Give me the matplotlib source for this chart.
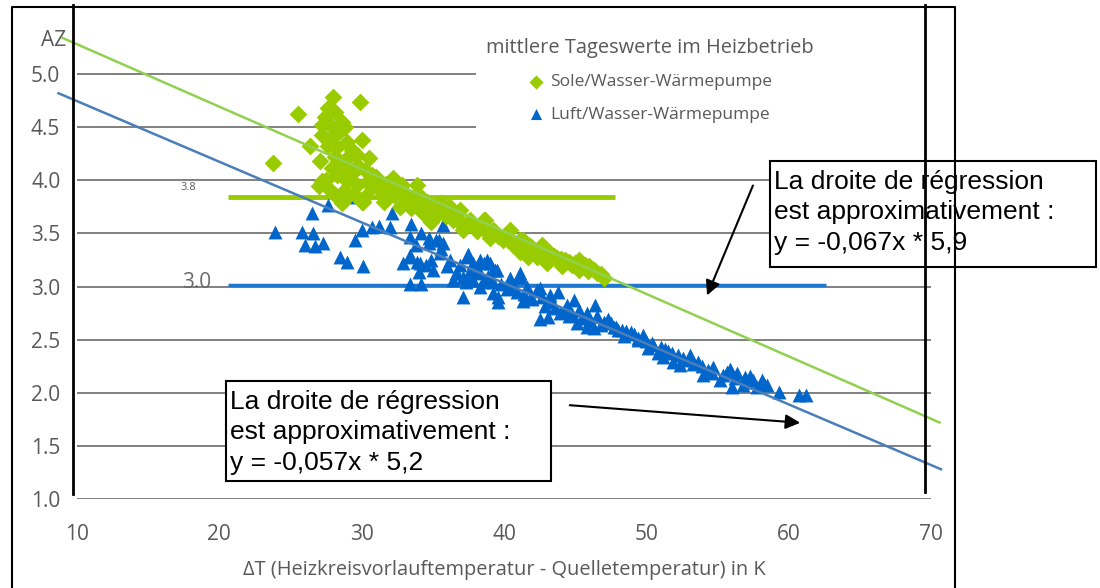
import matplotlib
matplotlib.use('Agg')
import matplotlib.pyplot as plt
from matplotlib.patches import Rectangle

# Sole/Wasser-Wärmepumpe: daily means (dT in K, AZ)
sole_dt = [28.0, 29.9, 25.5, 27.6, 27.4, 28.1, 28.6, 27.2, 27.9, 28.5, 28.8, 27.2, 28.0, 30.0, 29.0,
           26.4, 27.6, 28.3, 29.3, 27.1, 28.1, 29.0, 29.7, 30.5, 23.8, 27.9, 28.7, 29.5, 30.2, 30.7,
           27.2, 28.3, 29.0, 29.7, 27.8, 28.7, 29.5, 30.2, 30.9, 31.4, 32.1, 32.8, 33.9, 32.3, 33.2,
           30.0, 28.1, 34.2, 34.7, 33.5, 32.8, 31.6, 28.6, 31.0, 30.7, 31.7, 30.1,
           32.2, 31.5, 32.9, 33.4, 34.6, 35.5, 34.3, 36.2, 36.9, 36.4, 37.6, 37.1, 38.3, 38.7, 38.1,
           39.2, 39.0, 40.4, 39.9, 40.6, 41.3, 41.1, 42.0, 42.7, 42.3, 43.2, 43.7, 44.3, 44.8, 45.3,
           45.3, 46.0, 46.5, 47.0, 44.1, 43.0, 41.7, 35.0, 32.7,
           35.4, 36.1, 34.9, 36.6, 37.6, 38.6, 39.4, 41.1, 41.8, 42.7,
           35.8, 37.3, 38.9, 40.0, 41.5, 42.5, 43.5, 44.6, 45.7, 46.3,
           31.2, 32.5, 33.7, 34.0, 35.2, 35.9, 36.8, 37.9, 38.5, 39.6, 40.2, 40.9, 41.9, 43.0, 44.0,
           45.0, 45.9, 46.8, 29.2, 28.4, 29.8, 30.4, 29.1, 27.5, 27.0]
sole_az = [4.78, 4.74, 4.62, 4.68, 4.60, 4.64, 4.55, 4.52, 4.50, 4.46, 4.50, 4.43, 4.41, 4.38, 4.36,
           4.32, 4.32, 4.31, 4.29, 4.18, 4.22, 4.21, 4.24, 4.21, 4.16, 4.12, 4.13, 4.12, 4.10, 4.05,
           3.99, 4.05, 3.99, 3.96, 3.91, 3.89, 3.86, 3.84, 3.96, 3.89, 4.00, 3.96, 3.96, 3.86, 3.86,
           3.80, 3.86, 3.84, 3.77, 3.74, 3.77, 3.80, 3.79, 4.03, 3.94, 3.97, 3.80,
           4.02, 3.88, 3.88, 3.79, 3.80, 3.79, 3.69, 3.75, 3.72, 3.63, 3.63, 3.53, 3.58, 3.63, 3.52,
           3.53, 3.46, 3.53, 3.44, 3.39, 3.44, 3.33, 3.36, 3.39, 3.28, 3.32, 3.27, 3.25, 3.20, 3.25,
           3.16, 3.19, 3.13, 3.08, 3.19, 3.22, 3.28, 3.72, 3.75,
           3.69, 3.75, 3.61, 3.66, 3.60, 3.63, 3.51, 3.44, 3.38, 3.32,
           3.70, 3.58, 3.50, 3.47, 3.40, 3.34, 3.29, 3.23, 3.20, 3.16,
           3.93, 3.92, 3.83, 3.75, 3.74, 3.66, 3.62, 3.56, 3.55, 3.48, 3.45, 3.40, 3.35, 3.29, 3.26,
           3.22, 3.15, 3.12, 4.05, 4.18, 4.13, 3.98, 3.86, 4.00, 3.95]

# Luft/Wasser-Wärmepumpe
luft_dt = [23.9, 25.8, 26.5, 27.6, 29.1, 26.0, 26.7, 27.3, 26.6, 28.5, 29.0, 30.1, 29.5, 30.0, 30.7,
           31.2, 32.1, 32.0, 33.5, 33.4, 34.2, 34.7, 33.8, 33.4, 32.9, 33.9, 34.5, 34.0, 35.0, 33.4,
           34.2, 35.7, 35.4, 35.6, 36.0, 36.4, 34.9, 36.6, 37.4, 37.6, 37.1, 38.6, 39.4, 39.1, 39.6,
           41.1, 40.6, 42.3, 34.7, 35.2,
           33.4, 34.1, 37.5, 38.3, 38.8, 39.2, 38.1, 36.7, 40.4, 41.1, 37.3, 38.5,
           35.7, 35.5, 37.8, 39.0, 39.5, 38.3, 37.1, 37.8, 38.3, 39.2, 39.6, 39.2, 40.4, 41.1, 40.9,
           41.6, 41.9, 42.5, 41.3, 42.7, 43.2, 43.8, 43.4, 42.5, 43.1, 44.4, 44.9, 45.3, 45.8, 46.4,
           46.5, 47.0, 47.3, 47.7, 48.3, 48.9, 49.4, 43.9, 44.6, 45.1, 45.8, 46.3,
           47.5, 48.0, 48.9, 49.8, 48.4, 49.4, 50.5, 51.0, 50.1, 51.5, 52.2, 51.2, 52.9, 53.6, 52.4,
           54.3, 54.7, 54.0, 55.2, 55.7, 56.4, 56.9, 57.5, 58.1, 58.5, 57.8, 56.0, 56.8, 59.3, 60.7,
           61.2, 53.1, 51.9, 50.8,
           36.2, 36.9, 37.6, 38.9, 39.8, 40.2, 41.4, 42.0, 42.9, 43.6, 44.2, 44.8, 45.5, 46.0, 46.8,
           47.9, 48.6, 49.1, 50.0, 50.4, 51.3, 51.8, 52.6, 53.3, 53.9, 54.6, 55.4, 56.2, 57.1, 58.3,
           57.3, 55.9]
luft_az = [3.51, 3.51, 3.69, 3.77, 3.84, 3.39, 3.38, 3.41, 3.50, 3.28, 3.23, 3.19, 3.44, 3.53, 3.56,
           3.57, 3.69, 3.56, 3.59, 3.47, 3.50, 3.46, 3.39, 3.28, 3.22, 3.23, 3.20, 3.14, 3.16, 3.02,
           3.02, 3.58, 3.44, 3.35, 3.19, 3.06, 3.25, 3.13, 3.28, 3.06, 2.90, 3.22, 3.16, 3.06, 2.90,
           3.09, 3.00, 2.97, 3.41, 3.44,
           3.30, 3.22, 3.31, 3.25, 3.25, 3.16, 3.14, 3.13, 3.08, 3.11, 3.04, 3.04,
           3.41, 3.32, 3.22, 3.22, 3.16, 3.13, 3.09, 3.06, 3.00, 2.94, 2.85, 3.04, 3.05, 3.13, 2.95,
           3.00, 2.90, 2.99, 2.86, 2.90, 2.92, 2.95, 2.85, 2.69, 2.71, 2.83, 2.87, 2.78, 2.75, 2.83,
           2.72, 2.67, 2.69, 2.62, 2.59, 2.56, 2.52, 2.75, 2.72, 2.66, 2.62, 2.61,
           2.66, 2.59, 2.57, 2.54, 2.53, 2.50, 2.45, 2.43, 2.42, 2.39, 2.36, 2.34, 2.31, 2.29, 2.26,
           2.21, 2.24, 2.17, 2.12, 2.20, 2.19, 2.15, 2.12, 2.12, 2.07, 2.05, 2.05, 2.07, 2.01, 1.98,
           1.98, 2.36, 2.29, 2.37,
           3.25, 3.20, 3.15, 3.10, 3.02, 2.98, 2.93, 2.88, 2.82, 2.80, 2.77, 2.74, 2.70, 2.68, 2.64,
           2.62, 2.58, 2.55, 2.49, 2.47, 2.41, 2.37, 2.33, 2.27, 2.25, 2.19, 2.17, 2.14, 2.10, 2.08,
           2.16, 2.22]

# regression lines (end points as drawn)
sole_fit_dt = [9.0, 70.6]
sole_fit_az = [5.34, 1.72]
luft_fit_dt = [8.7, 70.7]
luft_fit_az = [4.82, 1.28]

# reference levels
sole_ref_az = 3.84
sole_ref_dt = [20.6, 47.8]
luft_ref_az = 3.01
luft_ref_dt = [20.6, 62.6]

x_ticks = [10, 20, 30, 40, 50, 60, 70]
y_ticks = [1.0, 1.5, 2.0, 2.5, 3.0, 3.5, 4.0, 4.5, 5.0]

GREEN = '#99CC00'
GREEN_LINE = '#92D050'
BLUE = '#0066CC'
BLUE_LINE = '#4A7EBB'
GRAY = '#595959'

plt.rcParams['font.family'] = ['Open Sans', 'DejaVu Sans']

fig = plt.figure(figsize=(11, 5.88), dpi=100)
ax = fig.add_axes([77 / 1100, 1 - 499 / 588, 854 / 1100, 478 / 588])
ax.set_xlim(10, 70)
ax.set_ylim(1.0, 5.5)
for s in ax.spines.values():
    s.set_visible(False)
ax.set_xticks(x_ticks)
ax.set_yticks(y_ticks)
ax.set_yticklabels([f'{v:.1f}' for v in y_ticks])
ax.tick_params(length=0, colors=GRAY, labelsize=15)
ax.tick_params(axis='y', pad=12)
ax.tick_params(axis='x', pad=18)
ax.yaxis.grid(True, color='#808080', lw=1.4)
ax.set_axisbelow(True)
ax.set_xlabel('ΔT (Heizkreisvorlauftemperatur - Quelletemperatur) in K',
              fontsize=14.4, color=GRAY, labelpad=11)

# legend area hides the top grid lines
ax.add_patch(Rectangle((38.0, 4.25), 33, 1.25, facecolor='white', edgecolor='none',
                       zorder=1, clip_on=False))

ax.plot(sole_ref_dt, [sole_ref_az] * 2, color=GREEN, lw=3.5, zorder=1.5, solid_capstyle='butt')
ax.plot(luft_ref_dt, [luft_ref_az] * 2, color='#1F78D0', lw=2.5, zorder=1.5, solid_capstyle='butt')

sc2 = ax.scatter(luft_dt, luft_az, marker='^', s=100, color=BLUE, lw=0, zorder=2,
                 label='Luft/Wasser-Wärmepumpe')
sc1 = ax.scatter(sole_dt, sole_az, marker='D', s=82, color=GREEN, lw=0, zorder=2.1,
                 label='Sole/Wasser-Wärmepumpe')

ax.plot(sole_fit_dt, sole_fit_az, color=GREEN_LINE, lw=1.8, zorder=3, clip_on=False)
ax.plot(luft_fit_dt, luft_fit_az, color=BLUE_LINE, lw=1.8, zorder=3, clip_on=False)

ax.text(17.8, 3.93, '3.8', fontsize=8, color=GRAY, ha='center', va='center')
ax.text(18.4, 3.04, '3.0', fontsize=15, color='#6b6b6b', ha='center', va='center')

leg = ax.legend(handles=[sc1, sc2], title='mittlere Tageswerte im Heizbetrieb',
                loc='upper left', bbox_to_anchor=(477 / 1100, 1 - 29 / 588),
                bbox_transform=fig.transFigure, frameon=False, fontsize=12.5,
                title_fontsize=14.4, borderpad=0, handletextpad=0.3, handlelength=1.0,
                labelspacing=0.95, labelcolor=GRAY, markerscale=0.8)
leg.get_title().set_color(GRAY)

# overlay in pixel coordinates for frame, boxes and arrows
ov = fig.add_axes([0, 0, 1, 1], zorder=5)
ov.set_xlim(0, 1100)
ov.set_ylim(588, 0)
ov.axis('off')
ov.patch.set_alpha(0)

ov.plot([12, 12, 955, 955], [600, 7, 7, 600], color='black', lw=1.5)
ov.plot([73, 73], [5, 494], color='black', lw=2)
ov.plot([925, 925], [5, 492], color='black', lw=2)

ov.add_patch(Rectangle((770, 161), 326, 106, facecolor='white', edgecolor='black', lw=1.5))
ov.add_patch(Rectangle((226, 381), 325, 100, facecolor='white', edgecolor='black', lw=1.5))

ov.text(774, 170, 'La droite de régression\nest approximativement :\ny = -0,067x * 5,9',
        family='Liberation Sans', fontsize=19, va='top', ha='left', linespacing=1.33)
ov.text(230, 390, 'La droite de régression\nest approximativement :\ny = -0,057x * 5,2',
        family='Liberation Sans', fontsize=19, va='top', ha='left', linespacing=1.33)

ov.annotate('', xy=(706, 298), xytext=(754, 183),
            arrowprops=dict(arrowstyle='-|>', color='black', lw=1.5, mutation_scale=22))
ov.annotate('', xy=(803, 423), xytext=(567, 405),
            arrowprops=dict(arrowstyle='-|>', color='black', lw=1.5, mutation_scale=22))

ov.text(54, 40, 'AZ', fontsize=15, color=GRAY, ha='center', va='center')

fig.savefig('out.png', dpi=100)
